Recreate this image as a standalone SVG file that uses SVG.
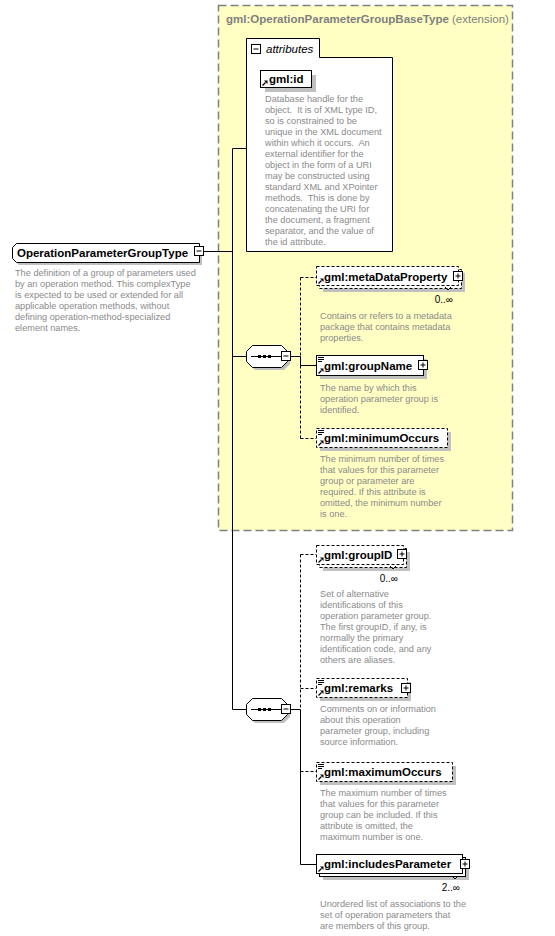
<svg xmlns="http://www.w3.org/2000/svg" xmlns:xlink="http://www.w3.org/1999/xlink" width="555" height="936" viewBox="0 0 555 936">
<style>
.name{font-family:"Liberation Sans",Arial,sans-serif;font-size:11.5px;font-weight:bold;fill:#000}
.desc{font-family:"Liberation Sans",Arial,sans-serif;font-size:9.2px;fill:#8a8a8a;white-space:pre}
.occ{font-family:"Liberation Sans",Arial,sans-serif;font-size:10px;fill:#000}
.box{fill:#fff;stroke:#000;stroke-width:1}
.opt{fill:#fff;stroke:#000;stroke-width:1;stroke-dasharray:3 2}
.shadow{fill:#c0c0c0}
.line{stroke:#000;stroke-width:1;fill:none}
.dline{stroke:#000;stroke-width:1;fill:none;stroke-dasharray:3 2}
</style>
<defs>
<g id="ref"><path d="M0.5,5.5 L3.5,2.5" stroke="#000" stroke-width="1.2" fill="none"/><path d="M2,0.5 H5.5 V4 Z" fill="#000"/></g>
<g id="simple"><path d="M0,0.5 H6 M0,2.5 H6 M0,4.5 H4" stroke="#000" stroke-width="1" fill="none"/></g>
<g id="plus"><rect x="0.5" y="0.5" width="9" height="9" fill="#fff" stroke="#000"/><path d="M2.5,5 H7.5 M5,2.5 V7.5" stroke="#000"/></g>
<g id="minus"><rect x="0.5" y="0.5" width="9" height="9" fill="#fff" stroke="#000"/><path d="M2.5,5 H7.5" stroke="#000"/></g>
<g id="seq">
<path d="M9,3 H38 L44,9 V19 L38,25 H9 L3,19 V9 Z" class="shadow"/>
<path d="M6.5,0.5 H35.5 L41.5,6.5 V16.5 L35.5,22.5 H6.5 L0.5,16.5 V6.5 Z" fill="#fff" stroke="#000"/>
<path d="M5,11.5 H37" stroke="#000"/>
<rect x="12" y="10" width="3" height="3" fill="#000"/><rect x="17" y="10" width="3" height="3" fill="#000"/><rect x="22" y="10" width="3" height="3" fill="#000"/>
</g>
<path id="chev" d="M0,0 L3,3 L6,0" stroke="#000" fill="none"/>
</defs>

<g id="base-type">
<rect x="218.5" y="5.5" width="294" height="525" fill="#ffffc4" stroke="#808080" stroke-width="1.5" stroke-dasharray="8 4"/>
<text x="226" y="23" class="name" style="fill:#808080">gml:OperationParameterGroupBaseType<tspan style="font-weight:normal"> (extension)</tspan></text>
</g>

<g id="connectors">
<path d="M204,251.5 H232.5" class="line"/>
<path d="M232.5,148.5 V709.5" class="line"/>
<path d="M232.5,148.5 H246.5" class="line"/>
<path d="M232.5,356.5 H246" class="line"/>
<path d="M290,356.5 H300.5" class="line"/>
<path d="M300.5,277.5 V356.5 M300.5,365.5 V438.5" class="dline"/>
<path d="M300.5,356.5 V365.5" class="line"/>
<path d="M300.5,277.5 H316" class="dline"/>
<path d="M300.5,365.5 H316" class="line"/>
<path d="M300.5,438.5 H316" class="dline"/>
<path d="M232.5,709.5 H246" class="line"/>
<path d="M290,709.5 H300.5" class="line"/>
<path d="M300.5,554.5 V709.5" class="dline"/>
<path d="M300.5,709.5 V864.5" class="line"/>
<path d="M300.5,554.5 H316" class="dline"/>
<path d="M300.5,688.5 H316" class="dline"/>
<path d="M300.5,771.5 H316" class="dline"/>
<path d="M300.5,864.5 H316" class="line"/>
</g>

<g id="root">
<path d="M19,246 H202 V265 H19 L15,261 V250 Z" class="shadow"/>
<path d="M16.5,243.5 H199.5 V262.5 H16.5 L12.5,258.5 V247.5 Z" class="box"/>
<text x="17" y="257" class="name">OperationParameterGroupType</text>
<use xlink:href="#minus" x="194" y="246"/>
<text class="desc"><tspan x="15" y="276">The definition of a group of parameters used</tspan><tspan x="15" y="287">by an operation method. This complexType</tspan><tspan x="15" y="298">is expected to be used or extended for all</tspan><tspan x="15" y="309">applicable operation methods, without</tspan><tspan x="15" y="320">defining operation-method-specialized</tspan><tspan x="15" y="331">element names.</tspan></text>
</g>

<g id="attributes">
<path d="M246.5,251.5 V38.5 H319.5 V57.5 H392.5 V251.5 Z" class="box"/>
<use xlink:href="#minus" x="251" y="44"/>
<text x="266" y="53" class="name" style="font-weight:normal;font-style:italic">attributes</text>
</g>

<g id="gml-id">
<rect x="265" y="75" width="51" height="17" class="shadow"/>
<rect x="260.5" y="70.5" width="51" height="17" class="box"/>
<text x="269" y="83" class="name">gml:id</text>
<use xlink:href="#ref" x="262" y="80"/>
<text class="desc"><tspan x="265" y="102">Database handle for the</tspan><tspan x="265" y="113">object.  It is of XML type ID,</tspan><tspan x="265" y="124">so is constrained to be</tspan><tspan x="265" y="135">unique in the XML document</tspan><tspan x="265" y="146">within which it occurs.  An</tspan><tspan x="265" y="157">external identifier for the</tspan><tspan x="265" y="168">object in the form of a URI</tspan><tspan x="265" y="179">may be constructed using</tspan><tspan x="265" y="190">standard XML and XPointer</tspan><tspan x="265" y="201">methods.  This is done by</tspan><tspan x="265" y="212">concatenating the URI for</tspan><tspan x="265" y="223">the document, a fragment</tspan><tspan x="265" y="234">separator, and the value of</tspan><tspan x="265" y="245">the id attribute.</tspan></text>
</g>

<g id="sequence-1">
<use xlink:href="#seq" x="246" y="345"/>
<use xlink:href="#minus" x="281" y="351"/>
</g>

<g id="metaDataProperty">
<rect x="323" y="273" width="142" height="19" class="shadow"/>
<rect x="319.5" y="269.5" width="142" height="19" class="opt"/>
<rect x="316.5" y="266.5" width="142" height="19" class="opt"/>
<text x="324" y="281" class="name">gml:metaDataProperty</text>
<use xlink:href="#ref" x="318" y="278"/>
<use xlink:href="#plus" x="453" y="271"/>
<use xlink:href="#chev" x="445" y="287"/>
<text x="453" y="303" class="occ" text-anchor="end">0..∞</text>
<text class="desc"><tspan x="320" y="319">Contains or refers to a metadata</tspan><tspan x="320" y="330">package that contains metadata</tspan><tspan x="320" y="341">properties.</tspan></text>
</g>

<g id="groupName">
<rect x="320" y="359" width="107" height="20" class="shadow"/>
<rect x="316.5" y="355.5" width="107" height="20" class="box"/>
<text x="324" y="370" class="name">gml:groupName</text>
<use xlink:href="#simple" x="318" y="357"/>
<use xlink:href="#ref" x="318" y="368"/>
<use xlink:href="#plus" x="418" y="360"/>
<text class="desc"><tspan x="320" y="391">The name by which this</tspan><tspan x="320" y="402">operation parameter group is</tspan><tspan x="320" y="413">identified.</tspan></text>
</g>

<g id="minimumOccurs">
<rect x="320" y="432" width="131" height="19" class="shadow"/>
<rect x="316.5" y="428.5" width="131" height="19" class="opt"/>
<text x="324" y="442" class="name">gml:minimumOccurs</text>
<use xlink:href="#simple" x="318" y="430"/>
<use xlink:href="#ref" x="318" y="440"/>
<text class="desc"><tspan x="320" y="462">The minimum number of times</tspan><tspan x="320" y="473">that values for this parameter</tspan><tspan x="320" y="484">group or parameter are</tspan><tspan x="320" y="495">required. If this attribute is</tspan><tspan x="320" y="506">omitted, the minimum number</tspan><tspan x="320" y="517">is one.</tspan></text>
</g>

<g id="sequence-2">
<use xlink:href="#seq" x="246" y="698"/>
<use xlink:href="#minus" x="281" y="704"/>
</g>

<g id="groupID">
<rect x="323" y="552" width="87" height="19" class="shadow"/>
<rect x="319.5" y="548.5" width="87" height="19" class="opt"/>
<rect x="316.5" y="545.5" width="87" height="19" class="opt"/>
<text x="324" y="559" class="name">gml:groupID</text>
<use xlink:href="#ref" x="318" y="557"/>
<use xlink:href="#plus" x="397" y="549"/>
<use xlink:href="#chev" x="390" y="566"/>
<text x="398" y="582" class="occ" text-anchor="end">0..∞</text>
<text class="desc"><tspan x="320" y="597">Set of alternative</tspan><tspan x="320" y="608">identifications of this</tspan><tspan x="320" y="619">operation parameter group.</tspan><tspan x="320" y="630">The first groupID, if any, is</tspan><tspan x="320" y="641">normally the primary</tspan><tspan x="320" y="652">identification code, and any</tspan><tspan x="320" y="663">others are aliases.</tspan></text>
</g>

<g id="remarks">
<rect x="320" y="682" width="91" height="19" class="shadow"/>
<rect x="316.5" y="678.5" width="91" height="19" class="opt"/>
<text x="324" y="692" class="name">gml:remarks</text>
<use xlink:href="#simple" x="318" y="680"/>
<use xlink:href="#ref" x="318" y="690"/>
<use xlink:href="#plus" x="401" y="683"/>
<text class="desc"><tspan x="320" y="712">Comments on or information</tspan><tspan x="320" y="723">about this operation</tspan><tspan x="320" y="734">parameter group, including</tspan><tspan x="320" y="745">source information.</tspan></text>
</g>

<g id="maximumOccurs">
<rect x="320" y="766" width="136" height="19" class="shadow"/>
<rect x="316.5" y="762.5" width="136" height="19" class="opt"/>
<text x="324" y="776" class="name">gml:maximumOccurs</text>
<use xlink:href="#simple" x="318" y="764"/>
<use xlink:href="#ref" x="318" y="774"/>
<text class="desc"><tspan x="320" y="796">The maximum number of times</tspan><tspan x="320" y="807">that values for this parameter</tspan><tspan x="320" y="818">group can be included. If this</tspan><tspan x="320" y="829">attribute is omitted, the</tspan><tspan x="320" y="840">maximum number is one.</tspan></text>
</g>

<g id="includesParameter">
<rect x="323" y="861" width="146" height="19" class="shadow"/>
<rect x="319.5" y="857.5" width="146" height="19" class="box"/>
<rect x="316.5" y="854.5" width="146" height="19" class="box"/>
<text x="324" y="868" class="name">gml:includesParameter</text>
<use xlink:href="#ref" x="318" y="866"/>
<use xlink:href="#plus" x="460" y="859"/>
<use xlink:href="#chev" x="452" y="876"/>
<text x="460" y="891" class="occ" text-anchor="end">2..∞</text>
<text class="desc"><tspan x="320" y="907">Unordered list of associations to the</tspan><tspan x="320" y="918">set of operation parameters that</tspan><tspan x="320" y="929">are members of this group.</tspan></text>
</g>
</svg>
